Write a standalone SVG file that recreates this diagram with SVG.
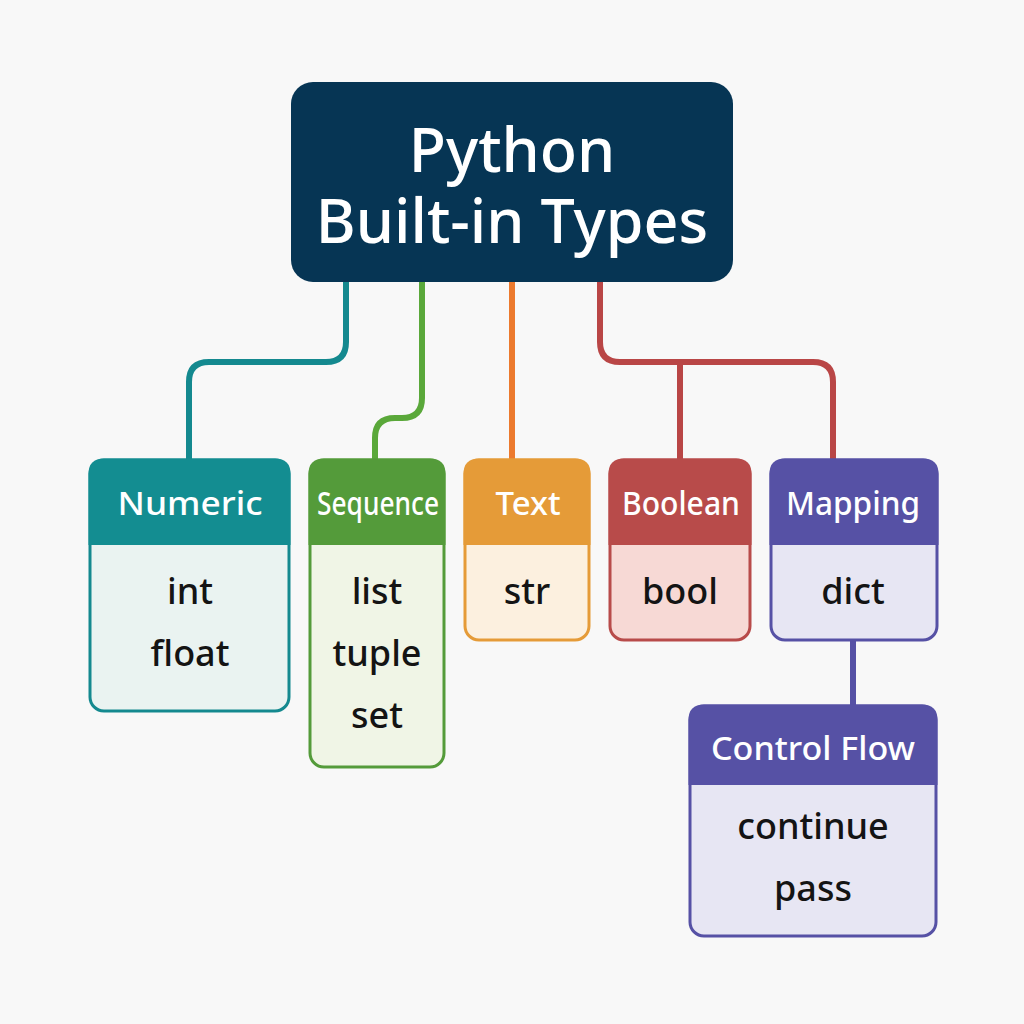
<svg xmlns="http://www.w3.org/2000/svg" width="1024" height="1024" viewBox="0 0 1024 1024">
<style>
text{font-family:"Noto Sans","Open Sans","DejaVu Sans",sans-serif;text-anchor:middle}
.title{font-size:61px;font-weight:500;fill:#ffffff}
.hd{font-size:33px;font-weight:500;fill:#ffffff}
.it{font-size:36px;font-weight:500;fill:#141414}
.con{fill:none;stroke-width:6;stroke-linecap:butt;stroke-linejoin:round}
.box{stroke-width:3}
</style>
<rect width="1024" height="1024" fill="#f8f8f8"/>
<g id="connectors">
<path class="con" stroke="#14898f" d="M346,282 V342 Q346,362 326,362 H209 Q189,362 189,382 V460"/>
<path class="con" stroke="#5aa83a" d="M422,282 V398 Q422,418 402,418 H395 Q375,418 375,438 V460"/>
<path class="con" stroke="#ec7a2e" d="M512,282 V460"/>
<path class="con" stroke="#b94646" d="M600,282 V342 Q600,362 620,362 H813 Q833,362 833,382 V460"/>
<path class="con" stroke="#b94646" d="M680,362 V460"/>
<path class="con" stroke="#5651a5" d="M853,640 V706"/>
</g>
<g id="root">
<rect x="291" y="82" width="442" height="200" rx="22" fill="#063554"/>
<text class="title" x="512" y="172">Python</text>
<text class="title" x="512" y="243">Built-in Types</text>
</g>
<g id="numeric">
<rect class="box" x="90" y="460" width="199" height="251" rx="14" fill="#eaf3f1" stroke="#14898f"/>
<path d="M88.5,545 V474 Q88.5,458.5 104,458.5 H275 Q290.5,458.5 290.5,474 V545 Z" fill="#138d91"/>
<text class="hd" x="190" y="515" textLength="145" lengthAdjust="spacingAndGlyphs">Numeric</text>
<text class="it" x="190" y="604">int</text>
<text class="it" x="190" y="666">float</text>
</g>
<g id="sequence">
<rect class="box" x="310" y="460" width="134" height="307" rx="14" fill="#f0f5e6" stroke="#549b3a"/>
<path d="M308.5,545 V474 Q308.5,458.5 324,458.5 H430 Q445.5,458.5 445.5,474 V545 Z" fill="#549b3a"/>
<text class="hd" x="378" y="515" textLength="122" lengthAdjust="spacingAndGlyphs">Sequence</text>
<text class="it" x="377" y="604">list</text>
<text class="it" x="377" y="666">tuple</text>
<text class="it" x="377" y="728">set</text>
</g>
<g id="text">
<rect class="box" x="465" y="460" width="124" height="180" rx="14" fill="#fcf0df" stroke="#e59b38"/>
<path d="M463.5,545 V474 Q463.5,458.5 479,458.5 H575 Q590.5,458.5 590.5,474 V545 Z" fill="#e59b38"/>
<text class="hd" x="528" y="515">Text</text>
<text class="it" x="527" y="604">str</text>
</g>
<g id="boolean">
<rect class="box" x="610" y="460" width="140" height="180" rx="14" fill="#f7d9d5" stroke="#b84b4a"/>
<path d="M608.5,545 V474 Q608.5,458.5 624,458.5 H736 Q751.5,458.5 751.5,474 V545 Z" fill="#b84b4a"/>
<text class="hd" x="681" y="515" textLength="118" lengthAdjust="spacingAndGlyphs">Boolean</text>
<text class="it" x="680" y="604">bool</text>
</g>
<g id="mapping">
<rect class="box" x="771" y="460" width="166" height="180" rx="14" fill="#e7e6f3" stroke="#5651a5"/>
<path d="M769.5,545 V474 Q769.5,458.5 785,458.5 H923 Q938.5,458.5 938.5,474 V545 Z" fill="#5651a5"/>
<text class="hd" x="853" y="515" textLength="134" lengthAdjust="spacingAndGlyphs">Mapping</text>
<text class="it" x="853" y="604">dict</text>
</g>
<g id="controlflow">
<rect class="box" x="690" y="706" width="246" height="230" rx="14" fill="#e7e6f3" stroke="#5651a5"/>
<path d="M688.5,785 V720 Q688.5,704.5 704,704.5 H922 Q937.5,704.5 937.5,720 V785 Z" fill="#5651a5"/>
<text class="hd" x="813" y="760" textLength="204" lengthAdjust="spacingAndGlyphs">Control Flow</text>
<text class="it" x="813" y="839">continue</text>
<text class="it" x="813" y="901">pass</text>
</g>
</svg>
